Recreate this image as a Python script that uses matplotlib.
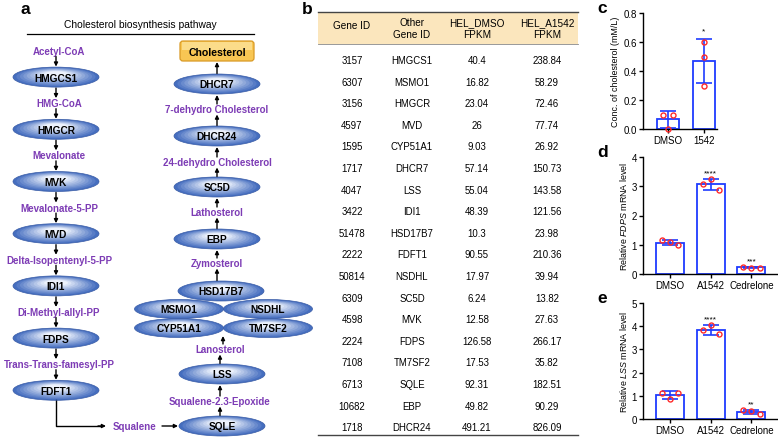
import numpy as np
import matplotlib
matplotlib.use("Agg")
import matplotlib.pyplot as plt
from matplotlib.patches import Ellipse, FancyBboxPatch, Rectangle

plt.rcParams['font.family'] = ['Liberation Sans', 'DejaVu Sans']
plt.rcParams['mathtext.fontset'] = 'custom'
plt.rcParams['mathtext.it'] = 'Liberation Sans:italic'
plt.rcParams['mathtext.rm'] = 'Liberation Sans'

# ---------------- data ----------------
# panel a: pathway
left_steps = ['Acetyl-CoA', 'HMGCS1', 'HMG-CoA', 'HMGCR', 'Mevalonate', 'MVK',
              'Mevalonate-5-PP', 'MVD', 'Delta-Isopentenyl-5-PP', 'IDI1',
              'Di-Methyl-allyl-PP', 'FDPS', 'Trans-Trans-famesyl-PP', 'FDFT1']
right_steps = ['Cholesterol', 'DHCR7', '7-dehydro Cholesterol', 'DHCR24',
               '24-dehydro Cholesterol', 'SC5D', 'Lathosterol', 'EBP',
               'Zymosterol', 'HSD17B7']
paired_rows = [('MSMO1', 'NSDHL'), ('CYP51A1', 'TM7SF2')]
lower_steps = ['Lanosterol', 'LSS', 'Squalene-2.3-Epoxide', 'SQLE']
enzymes = {'HMGCS1', 'HMGCR', 'MVK', 'MVD', 'IDI1', 'FDPS', 'FDFT1', 'DHCR7',
           'DHCR24', 'SC5D', 'EBP', 'HSD17B7', 'LSS', 'SQLE'}

# panel b: table
gene_ids = [3157, 6307, 3156, 4597, 1595, 1717, 4047, 3422, 51478, 2222,
            50814, 6309, 4598, 2224, 7108, 6713, 10682, 1718]
other_ids = ['HMGCS1', 'MSMO1', 'HMGCR', 'MVD', 'CYP51A1', 'DHCR7', 'LSS',
             'IDI1', 'HSD17B7', 'FDFT1', 'NSDHL', 'SC5D', 'MVK', 'FDPS',
             'TM7SF2', 'SQLE', 'EBP', 'DHCR24']
dmso_fpkm = [40.4, 16.82, 23.04, 26, 9.03, 57.14, 55.04, 48.39, 10.3, 90.55,
             17.97, 6.24, 12.58, 126.58, 17.53, 92.31, 49.82, 491.21]
a1542_fpkm = [238.84, 58.29, 72.46, 77.74, 26.92, 150.73, 143.58, 121.56,
              23.98, 210.36, 39.94, 13.82, 27.63, 266.17, 35.82, 182.51,
              90.29, 826.09]

# panel c
c_groups = ['DMSO', '1542']
c_points = [[0.10, 0.00, 0.10], [0.60, 0.50, 0.30]]
c_stars = ['', '*']

# panel d
d_groups = ['DMSO', 'A1542', 'Cedrelone']
d_points = [[1.15, 1.09, 0.98], [3.08, 3.25, 2.88], [0.24, 0.22, 0.21]]
d_stars = ['', '****', '***']

# panel e
e_groups = ['DMSO', 'A1542', 'Cedrelone']
e_points = [[1.14, 0.85, 1.13], [3.83, 4.07, 3.65], [0.39, 0.33, 0.21]]
e_stars = ['', '****', '**']

PURPLE = '#7d3cb5'
BLUE = '#1f3cff'
RED = '#ff2a2a'

fig = plt.figure(figsize=(7.78, 4.39), dpi=100)
ov = fig.add_axes([0, 0, 1, 1])
ov.set_xlim(0, 778)
ov.set_ylim(439, 0)
ov.axis('off')


def enzyme(x, y, label, w=86, h=20, z=2):
    base = np.array([0.27, 0.43, 0.75])
    light = np.array([0.93, 0.95, 0.99])
    n = 10
    for k in range(n):
        t = k / (n - 1)
        s = 1 - 0.72 * t
        col = base * (1 - t) + light * t
        ov.add_patch(Ellipse((x, y - 3 * t), w * s, h * s, color=col, lw=0,
                             zorder=z + k * 0.001))
    ov.add_patch(Ellipse((x, y), w, h, fill=False, ec='#3a5ca6', lw=0.5,
                         zorder=z + 0.02))
    ov.text(x, y + 0.5, label, ha='center', va='center', fontsize=7.3,
            fontweight='bold', zorder=z + 0.03)


def metabolite(x, y, label):
    ov.text(x, y, label, ha='center', va='center', fontsize=7.0,
            fontweight='bold', color=PURPLE)


def arrow(x, y0, y1):
    ov.annotate('', xy=(x, y1), xytext=(x, y0),
                arrowprops=dict(arrowstyle='-|>', color='k', lw=1.0,
                                mutation_scale=5.5, shrinkA=0, shrinkB=0))


def half_h(label):
    return 10 if label in enzymes or label == 'Cholesterol' else 4.5


# ---- panel a ----
ov.text(25, 10, 'a', fontsize=12.5, fontweight='bold', ha='center', va='center')
ov.text(140, 25, 'Cholesterol biosynthesis pathway', fontsize=7.4,
        ha='center', va='center')
ov.plot([27, 254], [35, 35], color='k', lw=0.9)

lx = 56
left_y = [52 + 26.1 * i for i in range(len(left_steps))]
for i, (lab, y) in enumerate(zip(left_steps, left_y)):
    if lab in enzymes:
        enzyme(lx, y, lab)
    else:
        metabolite(lx + 3, y, lab)
    if i > 0:
        arrow(lx, left_y[i - 1] + half_h(left_steps[i - 1]) + 1,
              y - half_h(lab) - 0.5)

# FDFT1 -> Squalene -> SQLE
ov.plot([lx, lx, 100], [left_y[-1] + 10, 427, 427], color='k', lw=1.0)
ov.annotate('', xy=(106, 427), xytext=(98, 427),
            arrowprops=dict(arrowstyle='-|>', color='k', lw=1.0,
                            mutation_scale=5.5, shrinkA=0, shrinkB=0))
metabolite(135, 427, 'Squalene')
ov.annotate('', xy=(178, 427), xytext=(162, 427),
            arrowprops=dict(arrowstyle='-|>', color='k', lw=1.0,
                            mutation_scale=5.5, shrinkA=0, shrinkB=0))

rx = 217
right_y = [52, 85, 110, 137, 163, 188, 213, 240, 264, 292]
lower_y = [350, 375, 402, 427]
pair_y = [310, 329]
pair_x = [179, 268]

# lower part (SQLE up to Lanosterol)
for lab, y in zip(lower_steps, lower_y):
    xx = 222 if lab in ('SQLE', 'LSS') else rx + 3
    if lab in enzymes:
        enzyme(xx, y, lab, w=86)
    else:
        metabolite(xx, y, lab)
for i in range(len(lower_steps) - 1):
    arrow(220, lower_y[i + 1] - half_h(lower_steps[i + 1]) - 0.5,
          lower_y[i] + half_h(lower_steps[i]) + 1)
arrow(223, lower_y[0] - 5, pair_y[-1] + 8)

# upper part
for i, (lab, y) in enumerate(zip(right_steps, right_y)):
    xx = 221 if lab == 'HSD17B7' else rx
    if lab == 'Cholesterol':
        ov.add_patch(FancyBboxPatch((180, 42), 74, 20,
                                    boxstyle='round,pad=0,rounding_size=3',
                                    fc='#f8c653', ec='#d99a25', lw=0.9,
                                    zorder=2))
        ov.add_patch(Rectangle((182, 43), 70, 8, fc='#fbdc8a', lw=0,
                               zorder=2.01))
        ov.text(xx, y + 0.5, lab, ha='center', va='center', fontsize=7.6,
                fontweight='bold', zorder=3)
    elif lab in enzymes:
        enzyme(xx, y, lab, w=86, h=20, z=2)
    else:
        metabolite(xx, y, lab)
    if i > 0:
        arrow(rx, y - half_h(lab) - 0.5,
              right_y[i - 1] + half_h(right_steps[i - 1]) + 1)

for row, y in zip(paired_rows, pair_y):
    z = 3 if y == pair_y[0] else 4
    for lab, xx in zip(row, pair_x):
        enzyme(xx, y, lab, w=89, h=19, z=z)

# ---- panel b: table ----
ov.text(307, 10, 'b', fontsize=12.5, fontweight='bold', ha='center', va='center')
col_x = [352, 412, 477, 547]
ov.add_patch(Rectangle((318, 13), 260, 32, fc='#fbe6bd', ec='none', zorder=1))
ov.plot([318, 578], [13, 13], color='#444444', lw=1.0)
ov.plot([318, 578], [45, 45], color='#888888', lw=0.6)
ov.plot([318, 578], [436, 436], color='#444444', lw=1.0)
headers = ['Gene ID', 'Other\nGene ID', 'HEL_DMSO\nFPKM', 'HEL_A1542\nFPKM']
for hx, h in zip(col_x, headers):
    ov.text(hx, 29 if '\n' in h else 26, h, ha='center', va='center',
            fontsize=7.2, linespacing=1.3)
for r in range(len(gene_ids)):
    y = 61 + r * 21.6
    vals = [str(gene_ids[r]), other_ids[r], f'{dmso_fpkm[r]:g}',
            f'{a1542_fpkm[r]:g}']
    for hx, v in zip(col_x, vals):
        ov.text(hx, y, v, ha='center', va='center', fontsize=6.9)


# ---- bar panels ----
def px_rect(x0, x1, y0, y1):
    return [x0 / 778, 1 - y1 / 439, (x1 - x0) / 778, (y1 - y0) / 439]


def bar_panel(rect, groups, points, offsets, ymax, step, ylabel, stars,
              xlim, width, letter, star_pad):
    ax = fig.add_axes(rect)
    x = np.arange(len(groups))
    means = [np.mean(p) for p in points]
    sds = [np.std(p, ddof=1) for p in points]
    ax.bar(x, means, width=width, color='white', edgecolor=BLUE, lw=1.3,
           zorder=2)
    ax.errorbar(x, means, yerr=sds, fmt='none', ecolor=BLUE, elinewidth=1.2,
                capsize=5.5, capthick=1.2, zorder=3)
    for xi, p, off in zip(x, points, offsets):
        ax.plot(xi + np.array(off), p, 'o', ms=3.6, mfc='none', mec=RED,
                mew=1.0, zorder=4, clip_on=False)
    for xi, m, s, st in zip(x, means, sds, stars):
        if st:
            ax.text(xi, m + s + star_pad, st, ha='center', va='bottom',
                    fontsize=6)
    ax.set_xlim(*xlim)
    ax.set_ylim(0, ymax)
    ticks = np.arange(0, ymax + step / 2, step)
    ax.set_yticks(ticks)
    if step < 1:
        ax.set_yticklabels([f'{v:.1f}' for v in ticks])
    ax.set_xticks(x)
    ax.set_xticklabels(groups)
    ax.spines[['top', 'right']].set_visible(False)
    for sp in ('left', 'bottom'):
        ax.spines[sp].set_linewidth(1.0)
    ax.tick_params(labelsize=7, length=3, width=1.0, pad=1.5)
    ax.set_ylabel(ylabel, fontsize=6.4, labelpad=2)
    fig.text(rect[0] - 0.052, rect[1] + rect[3] + 0.012, letter, fontsize=12.5,
             fontweight='bold', ha='center', va='center')
    return ax


bar_panel(px_rect(643, 717, 14, 130), c_groups, c_points,
          [[-0.15, 0, 0.14], [0, 0, 0]], 0.8, 0.2,
          'Conc. of cholesterol (mM/L)', c_stars, (-0.71, 1.37), 0.62, 'c',
          0.03)
bar_panel(px_rect(643, 777, 158, 275), d_groups, d_points,
          [[-0.2, 0, 0.2]] * 3, 4, 1, r'Relative $\it{FDPS}$ mRNA level',
          d_stars, (-0.67, 2.63), 0.69, 'd', 0.08)
bar_panel(px_rect(643, 777, 304, 420), e_groups, e_points,
          [[-0.2, 0, 0.2]] * 3, 5, 1, r'Relative $\it{LSS}$ mRNA level',
          e_stars, (-0.67, 2.63), 0.69, 'e', 0.1)

fig.savefig('out.png', dpi=100)
